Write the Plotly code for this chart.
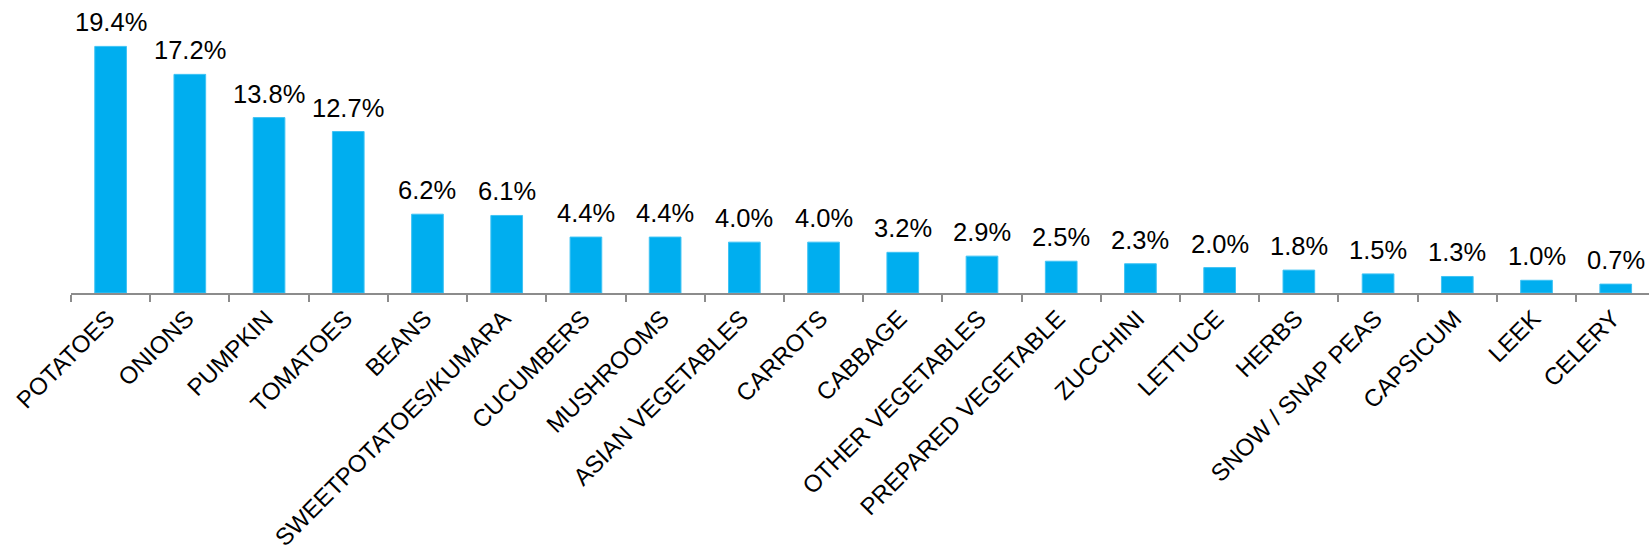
import plotly.graph_objects as go

categories = ["POTATOES", "ONIONS", "PUMPKIN", "TOMATOES", "BEANS",
              "SWEETPOTATOES/KUMARA", "CUCUMBERS", "MUSHROOMS", "ASIAN VEGETABLES",
              "CARROTS", "CABBAGE", "OTHER VEGETABLES", "PREPARED VEGETABLE",
              "ZUCCHINI", "LETTUCE", "HERBS", "SNOW / SNAP PEAS", "CAPSICUM",
              "LEEK", "CELERY"]
values = [19.4, 17.2, 13.8, 12.7, 6.2, 6.1, 4.4, 4.4, 4.0, 4.0, 3.2, 2.9,
          2.5, 2.3, 2.0, 1.8, 1.5, 1.3, 1.0, 0.7]
value_labels = [f"{v:.1f}%" for v in values]

FONT = "Liberation Sans, Arial, sans-serif"

fig = go.Figure(go.Bar(
    x=categories, y=values, width=0.4,
    marker=dict(color="#00AEEF", line=dict(color="#3FC3F4", width=1)),
    hoverinfo="skip",
))

for c, v, t in zip(categories, values, value_labels):
    fig.add_annotation(x=c, y=v, text=t, showarrow=False, yanchor="bottom",
                       yshift=8, font=dict(family=FONT, size=25.5, color="#000000"))

fig.update_layout(
    width=1649, height=551,
    margin=dict(l=71, r=0, t=0, b=258, autoexpand=False),
    plot_bgcolor="white", paper_bgcolor="white",
    showlegend=False,
    bargap=0.6,
)
fig.update_xaxes(
    range=[-0.5, 19.42], showline=True, linecolor="#8C8C8C", linewidth=2,
    ticks="outside", tickson="boundaries", ticklen=7, tickcolor="#8C8C8C",
    tickwidth=2, tickangle=-45, automargin=False,
    ticklabelshift=-3, ticklabelstandoff=0,
    tickfont=dict(family=FONT, size=24, color="#000000"),
    showgrid=False, zeroline=False,
)
fig.update_yaxes(range=[0, 23.05], visible=False, showgrid=False, zeroline=False)

fig.write_html("out.html")
